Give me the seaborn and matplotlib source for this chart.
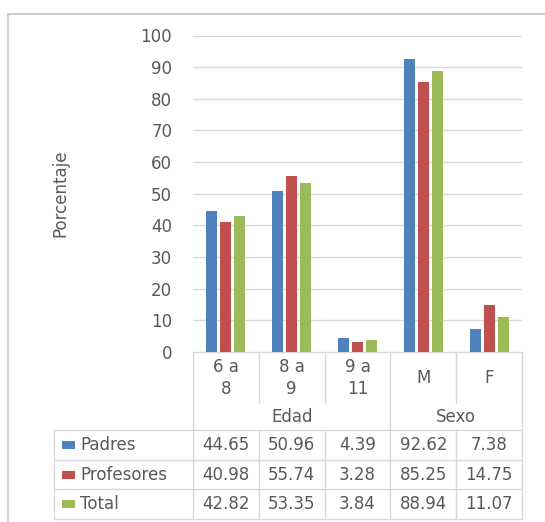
import matplotlib
matplotlib.use("Agg")
import matplotlib.pyplot as plt
import seaborn as sns
import pandas as pd
from matplotlib.transforms import blended_transform_factory
from matplotlib.patches import Rectangle
from matplotlib.lines import Line2D

# ---- data ----
categories = ["6 a\n8", "8 a\n9", "9 a\n11", "M", "F"]
groups = ["Edad", "Sexo"]
group_spans = [(0, 2), (3, 4)]
series = ["Padres", "Profesores", "Total"]
padres = [44.65, 50.96, 4.39, 92.62, 7.38]
profesores = [40.98, 55.74, 3.28, 85.25, 14.75]
total = [42.82, 53.35, 3.84, 88.94, 11.07]
value_labels = {
    "Padres": ["44.65", "50.96", "4.39", "92.62", "7.38"],
    "Profesores": ["40.98", "55.74", "3.28", "85.25", "14.75"],
    "Total": ["42.82", "53.35", "3.84", "88.94", "11.07"],
}
yticks = [0, 10, 20, 30, 40, 50, 60, 70, 80, 90, 100]
ylabel = "Porcentaje"
colors = ["#4F81BD", "#C0504D", "#9BBB59"]

df = pd.DataFrame({
    "cat": categories * 3,
    "serie": ["Padres"] * 5 + ["Profesores"] * 5 + ["Total"] * 5,
    "val": padres + profesores + total,
})

W, H = 545, 522
TXT = "#595959"
GRID = "#D9D9D9"
FS = 12

sns.set_theme(style="white")
plt.rcParams["font.family"] = ["DejaVu Sans"]

fig = plt.figure(figsize=(W / 100, H / 100), dpi=100)
fig.patch.set_facecolor("white")


def fx(p):
    return p / W


def fy(p):
    return 1 - p / H


ax_l, ax_r, ax_t, ax_b = 193, 522, 35.5, 352
ax = fig.add_axes([fx(ax_l), fy(ax_b), (ax_r - ax_l) / W, (ax_b - ax_t) / H])
ax.set_facecolor("white")

sns.barplot(data=df, x="cat", y="val", hue="serie", hue_order=series,
            palette=colors, width=0.636, ax=ax, legend=False,
            saturation=1, edgecolor="none")
bw = 0.167
for p in ax.patches:
    c = p.get_x() + p.get_width() / 2
    p.set_x(c - bw / 2)
    p.set_width(bw)
    p.set_zorder(3)

ax.set_xlim(-0.5, len(categories) - 0.5)
ax.set_ylim(0, 100)
ax.set_yticks(yticks)
ax.set_yticklabels([str(t) for t in yticks], color=TXT, fontsize=FS)
ax.tick_params(axis="y", length=0, pad=15)
ax.set_xticks([])
ax.set_xlabel("")
ax.set_ylabel("")
for t in yticks[1:]:
    ax.axhline(t, color=GRID, lw=1, zorder=0)
for s in ["left", "right", "top"]:
    ax.spines[s].set_visible(False)
ax.spines["bottom"].set_color(GRID)
ax.spines["bottom"].set_linewidth(1)

fig.text(fx(60), fy(193), ylabel, rotation=90, ha="center", va="center",
         color=TXT, fontsize=FS)

# ---- data table ----
tr = blended_transform_factory(ax.transData, fig.transFigure)
n = len(categories)
bounds = [i - 0.5 for i in range(n + 1)]


def vline(xd, y0, y1):
    fig.add_artist(Line2D([xd, xd], [fy(y0), fy(y1)], transform=tr,
                          color=GRID, lw=1))


def hline_fig(x0, x1, y):
    fig.add_artist(Line2D([fx(x0), fx(x1)], [fy(y), fy(y)],
                          transform=fig.transFigure, color=GRID, lw=1))


# category label row
for b in bounds:
    vline(b, ax_b, 403)
for i, c in enumerate(categories):
    fig.text(i, fy(378), c, transform=tr, ha="center", va="center",
             color=TXT, fontsize=FS, linespacing=1.3)
# group row
for b in [bounds[0], 2.5, bounds[-1]]:
    vline(b, 403, 430)
for g, (a, b2) in zip(groups, group_spans):
    fig.text((a + b2) / 2, fy(417), g, transform=tr, ha="center",
             va="center", color=TXT, fontsize=FS)

# series rows
row_edges = [430, 460, 489, 519]
for y in row_edges:
    hline_fig(54, ax_r, y)
fig.add_artist(Line2D([fx(54), fx(54)], [fy(430), fy(519)],
                      transform=fig.transFigure, color=GRID, lw=1))
for b in bounds:
    vline(b, 430, 519)
for k, s in enumerate(series):
    yc = (row_edges[k] + row_edges[k + 1]) / 2
    fig.add_artist(Rectangle((fx(62), fy(yc + 4)), 13 / W, 8 / H,
                             transform=fig.transFigure, color=colors[k],
                             lw=0))
    fig.text(fx(80), fy(yc), s, ha="left", va="center", color=TXT,
             fontsize=FS)
    for i, v in enumerate(value_labels[s]):
        fig.text(i, fy(yc), v, transform=tr, ha="center", va="center",
                 color=TXT, fontsize=FS)

# outer frame
fig.add_artist(Line2D([fx(8), 1], [fy(14), fy(14)],
                      transform=fig.transFigure, color="#D0D0D0", lw=1.5))
fig.add_artist(Line2D([fx(8), fx(8)], [fy(14), 0],
                      transform=fig.transFigure, color="#D0D0D0", lw=1.5))

fig.savefig("out.png", dpi=100, facecolor="white")
